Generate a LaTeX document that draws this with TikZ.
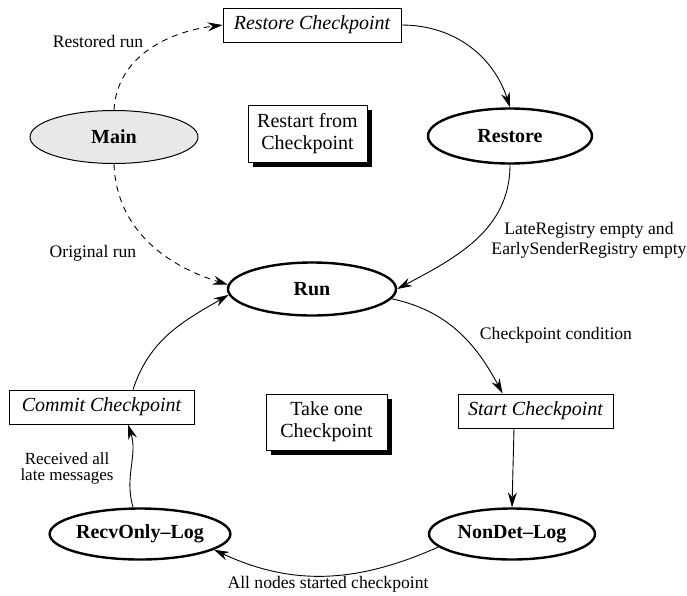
\documentclass[tikz,border=0pt]{standalone}
\usepackage{fontspec}
\setmainfont{Liberation Serif}
\usetikzlibrary{shapes.geometric,arrows.meta,shadows,calc}
\begin{document}
\begin{tikzpicture}[x=1pt,y=1pt,
  st/.style={ellipse,draw,line width=2.4pt,inner sep=0pt,font=\fontsize{20}{22}\selectfont\bfseries},
  bx/.style={rectangle,draw,line width=0.8pt,inner sep=0pt,font=\fontsize{20}{22}\selectfont\itshape},
  nb/.style={rectangle,draw,line width=0.8pt,fill=white,inner sep=0pt,align=center,font=\fontsize{20}{22}\selectfont,drop shadow={shadow xshift=4.5pt,shadow yshift=-4.5pt,fill=black,opacity=1}},
  lab/.style={font=\fontsize{17.6}{20}\selectfont,align=center,inner sep=0pt},
  arr/.style={-{Stealth[length=15pt,width=9pt,inset=5pt]},line width=0.9pt},
  dsh/.style={arr,dash pattern=on 6pt off 5pt}]
\useasboundingbox (0,0) rectangle (687,-595);
% states
\node[st,fill=gray!18,line width=1pt,minimum width=168,minimum height=53] (main) at (114,-137) {Main};
\node[st,minimum width=164,minimum height=55] (restore) at (510,-136) {Restore};
\node[st,minimum width=168,minimum height=53] (run) at (312,-289) {Run};
\node[st,minimum width=165,minimum height=51] (recv) at (140,-534) {RecvOnly--Log};
\node[st,minimum width=166,minimum height=51] (nondet) at (512,-534) {NonDet--Log};
% boxes
\node[bx,minimum width=178,minimum height=34] (rc) at (312,-25) {Restore Checkpoint};
\node[bx,minimum width=185,minimum height=34] (cc) at (101.5,-407) {Commit Checkpoint};
\node[bx,minimum width=155,minimum height=34] (sc) at (535.5,-411) {Start Checkpoint};
\node[nb,minimum width=119,minimum height=57] (rfc) at (307.5,-133.5) {Restart from\\Checkpoint};
\node[nb,minimum width=121,minimum height=56] (toc) at (326.5,-422) {Take one\\Checkpoint};
% labels
\node[lab] (l1) at (98,-41) {Restored run};
\node[lab] (l2) at (93,-253) {Original run};
\node[lab] (l3) at (589,-240) {LateRegistry empty and\\EarlySenderRegistry empty};
\node[lab] (l4) at (556,-335) {Checkpoint condition};
\node[lab,font=\fontsize{17}{16}\selectfont] (l5) at (67,-468) {Received all\\late messages};
\node[lab] (l6) at (328,-584) {All nodes started checkpoint};
% edges
\draw[dsh] (main.north) to[out=87,in=187] (rc.west);
\draw[dsh] (main.south) to[out=-88,in=163] (run.177);
\draw[arr] (rc.east) to[out=0,in=108] (restore.north);
\draw[arr] (restore.south) to[out=-90,in=28] (run.east);
\draw[arr] (run.-7) to[out=-12,in=118] ($(sc.north west)+(45,0)$);
\draw[arr] ($(sc.south)+(-21.5,0)$) -- (nondet.north);
\draw[arr] (nondet.190) to[out=204,in=-25] (recv.-12);
\draw[arr] ($(recv.north)+(-7,0)$) to[out=106,in=-72] ($(cc.south)+(26.5,0)$);
\draw[arr] ($(cc.north)+(31.5,0)$) to[out=72,in=210] (run.184);
\end{tikzpicture}
\end{document}
